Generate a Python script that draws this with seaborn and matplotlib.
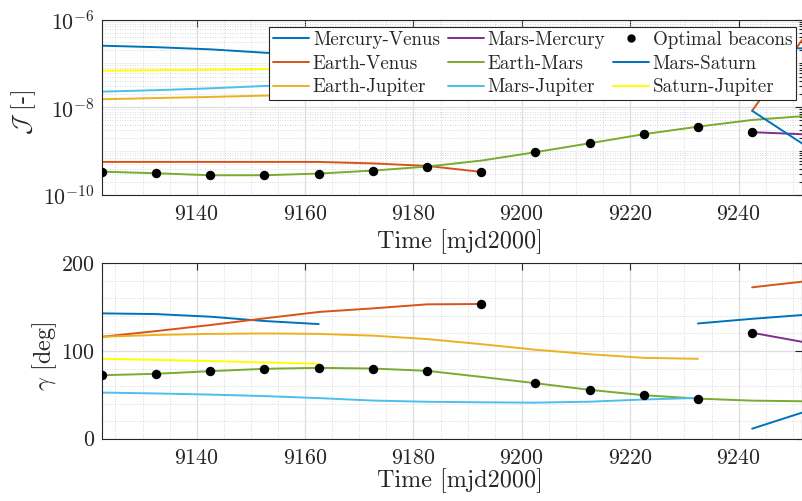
import numpy as np
import pandas as pd
import matplotlib
matplotlib.use("Agg")
import matplotlib.pyplot as plt
import seaborn as sns
from matplotlib.ticker import MultipleLocator, LogLocator, NullFormatter
from matplotlib.lines import Line2D

# ---------------- data ----------------
names = ["Mercury-Venus", "Earth-Venus", "Earth-Jupiter", "Mars-Mercury",
         "Earth-Mars", "Mars-Jupiter", "Mars-Saturn", "Saturn-Jupiter"]
colors = {"Mercury-Venus": "#0072BD", "Earth-Venus": "#D95319",
          "Earth-Jupiter": "#EDB120", "Mars-Mercury": "#7E2F8E",
          "Earth-Mars": "#77AC30", "Mars-Jupiter": "#4DBEEE",
          "Mars-Saturn": "#0072BD", "Saturn-Jupiter": "#FFFF00"}

# Mercury-Venus (two segments)
mv1_t = [9122.5, 9132.5, 9142.5, 9152.5, 9162.5]
mv1_J = [2.53e-7, 2.34e-7, 2.09e-7, 1.75e-7, 1.55e-7]
mv1_g = [142.9, 142.1, 139.1, 134.2, 130.7]
mv2_t = [9232.5, 9242.5, 9251.7]
mv2_J = [2.4e-7, 2.3e-7, 2.2e-7]
mv2_g = [131.4, 136.7, 141.0]

# Earth-Venus (two segments)
ev1_t = [9122.5, 9132.5, 9142.5, 9152.5, 9162.5, 9172.5, 9182.5, 9192.5]
ev1_J = [5.68e-10, 5.68e-10, 5.68e-10, 5.68e-10, 5.67e-10, 5.25e-10, 4.6e-10, 3.36e-10]
ev1_g = [116.2, 122.7, 129.6, 137.2, 144.5, 148.6, 153.2, 153.6]
ev2_t = [9242.5, 9247.0, 9251.7]
ev2_J = [8.3e-9, 5.1e-8, 3.4e-7]
ev2_g = [172.6, 175.8, 179.0]

# Earth-Jupiter
ej_t = [9122.5, 9132.5, 9142.5, 9152.5, 9162.5, 9172.5, 9182.5, 9192.5,
        9202.5, 9212.5, 9222.5, 9232.5]
ej_J = [1.52e-8, 1.62e-8, 1.72e-8, 1.84e-8, 1.95e-8, 2.05e-8, 2.15e-8, 2.25e-8,
        2.32e-8, 2.38e-8, 2.44e-8, 2.5e-8]
ej_g = [116.2, 118.3, 119.5, 120.0, 119.5, 117.5, 113.6, 107.8,
        101.5, 96.3, 92.2, 91.1]

# Mars-Mercury
mm_t = [9242.5, 9251.7]
mm_J = [2.7e-9, 2.43e-9]
mm_g = [120.8, 110.5]

# Earth-Mars
em_t = [9122.5, 9132.5, 9142.5, 9152.5, 9162.5, 9172.5, 9182.5, 9192.5,
        9202.5, 9212.5, 9222.5, 9232.5, 9242.5, 9251.7]
em_J = [3.41e-10, 3.13e-10, 2.82e-10, 2.82e-10, 3.08e-10, 3.60e-10, 4.44e-10,
        6.08e-10, 9.44e-10, 1.51e-9, 2.43e-9, 3.61e-9, 5.13e-9, 6.24e-9]
em_g = [72.4, 74.0, 77.0, 79.7, 80.8, 80.0, 77.4, 70.5, 63.3, 55.7, 49.6,
        45.7, 43.4, 42.7]

# Mars-Jupiter
mj_t = [9122.5, 9132.5, 9142.5, 9152.5, 9162.5, 9172.5, 9182.5, 9192.5,
        9202.5, 9212.5, 9222.5, 9232.5]
mj_J = [2.27e-8, 2.45e-8, 2.7e-8, 3.05e-8, 3.3e-8, 3.55e-8, 3.8e-8, 4.0e-8,
        4.2e-8, 4.4e-8, 4.6e-8, 4.8e-8]
mj_g = [52.6, 51.6, 50.3, 48.6, 46.3, 43.5, 42.1, 41.5, 41.1, 42.2, 44.7, 46.5]

# Mars-Saturn
ms_t = [9242.5, 9251.7]
ms_J = [8.3e-9, 1.5e-9]
ms_g = [11.4, 29.7]

# Saturn-Jupiter
sj_t = [9122.5, 9132.5, 9142.5, 9152.5, 9162.5]
sj_J = [6.8e-8, 7.0e-8, 7.2e-8, 7.45e-8, 7.7e-8]
sj_g = [91.1, 89.9, 88.5, 87.0, 85.4]

# Optimal beacons
beacon_t = [9122.5, 9132.5, 9142.5, 9152.5, 9162.5, 9172.5, 9182.5, 9192.5,
            9202.5, 9212.5, 9222.5, 9232.5, 9242.5]
beacon_J = [3.41e-10, 3.13e-10, 2.82e-10, 2.82e-10, 3.08e-10, 3.60e-10, 4.44e-10,
            3.36e-10, 9.44e-10, 1.51e-9, 2.43e-9, 3.61e-9, 2.7e-9]
beacon_g = [72.4, 74.0, 77.0, 79.7, 80.8, 80.0, 77.4, 153.6, 63.3, 55.7, 49.6,
            45.7, 120.8]

segments = [
    ("Mercury-Venus", mv1_t, mv1_J, mv1_g),
    ("Mercury-Venus", mv2_t, mv2_J, mv2_g),
    ("Earth-Venus", ev1_t, ev1_J, ev1_g),
    ("Earth-Venus", ev2_t, ev2_J, ev2_g),
    ("Earth-Jupiter", ej_t, ej_J, ej_g),
    ("Mars-Mercury", mm_t, mm_J, mm_g),
    ("Earth-Mars", em_t, em_J, em_g),
    ("Mars-Jupiter", mj_t, mj_J, mj_g),
    ("Mars-Saturn", ms_t, ms_J, ms_g),
    ("Saturn-Jupiter", sj_t, sj_J, sj_g),
]

# ---------------- style ----------------
sns.set_theme(style="white")
plt.rcParams.update({
    "font.family": ["cmr10", "DejaVu Serif"],
    "mathtext.fontset": "cm",
    "axes.formatter.use_mathtext": True,
    "axes.unicode_minus": False,
    "text.color": "#262626",
    "axes.labelcolor": "#262626",
    "xtick.color": "#262626",
    "ytick.color": "#262626",
    "axes.edgecolor": "#262626",
})

W, H = 802, 501
fig = plt.figure(figsize=(W / 100, H / 100), dpi=100)
left = 101.7
ax1 = fig.add_axes([left / W, 1 - 195 / H, (W - left) / W, 175.5 / H])
ax2 = fig.add_axes([left / W, 1 - 438.7 / H, (W - left) / W, 175.4 / H])

XLIM = (9122.46, 9251.7)
TICK_FS = 15.8
LABEL_FS = 17.4
LW = 1.4

for name, t, J, g in segments:
    df = pd.DataFrame({"t": t, "J": J, "g": g})
    sns.lineplot(data=df, x="t", y="J", ax=ax1, color=colors[name], lw=LW,
                 estimator=None, sort=False, legend=False)
    sns.lineplot(data=df, x="t", y="g", ax=ax2, color=colors[name], lw=LW,
                 estimator=None, sort=False, legend=False)

bdf = pd.DataFrame({"t": beacon_t, "J": beacon_J, "g": beacon_g})
sns.scatterplot(data=bdf, x="t", y="J", ax=ax1, color="black", s=46,
                edgecolor="black", linewidth=0, zorder=5, legend=False)
sns.scatterplot(data=bdf, x="t", y="g", ax=ax2, color="black", s=46,
                edgecolor="black", linewidth=0, zorder=5, legend=False)

for ax in (ax1, ax2):
    ax.set_xlim(*XLIM)
    ax.xaxis.set_major_locator(MultipleLocator(20))
    ax.xaxis.set_minor_locator(MultipleLocator(5))
    ax.set_axisbelow(True)
    ax.grid(which="major", color="#dedede", lw=0.9, ls="-")
    ax.grid(which="minor", color="#cdcdcd", lw=0.6, ls=(0, (1, 2)))
    ax.tick_params(which="both", direction="in", top=True, right=True,
                   labelsize=TICK_FS, width=0.8)
    ax.tick_params(which="major", length=5)
    ax.tick_params(axis="x", which="minor", length=0)
    ax.tick_params(axis="x", which="major", pad=7)
    ax.tick_params(axis="y", which="major", pad=5)
    for sp in ax.spines.values():
        sp.set_linewidth(0.8)
        sp.set_color("#262626")
    ax.set_xlabel("Time [mjd2000]", fontsize=LABEL_FS)
    ax.xaxis.label.set_verticalalignment("baseline")

# top axis (log)
ax1.set_yscale("log")
ax1.set_ylim(1e-10, 1e-6)
ax1.set_yticks([1e-10, 1e-8, 1e-6])
ax1.set_yticklabels([r"$10^{-10}$", r"$10^{-8}$", r"$10^{-6}$"])
ax1.yaxis.set_minor_locator(LogLocator(base=10, subs=np.arange(1, 10), numticks=30))
ax1.yaxis.set_minor_formatter(NullFormatter())
ax1.tick_params(axis="y", which="minor", length=2.5)
ax1.set_ylabel(r"$\mathcal{J}$ [-]", fontsize=LABEL_FS)
ax1.yaxis.set_label_coords((24 - left) / (W - left), 0.47)
ax1.yaxis.label.set_verticalalignment("center")
ax1.xaxis.set_label_coords((460 - left) / (W - left), -0.300)

# bottom axis
ax2.set_ylim(0, 200)
ax2.set_yticks([0, 100, 200])
ax2.yaxis.set_minor_locator(MultipleLocator(20))
ax2.tick_params(axis="y", which="minor", length=0)
ax2.set_ylabel(r"$\gamma$ [deg]", fontsize=LABEL_FS)
ax2.yaxis.set_label_coords((45 - left) / (W - left), 0.47)
ax2.yaxis.label.set_verticalalignment("center")
ax2.xaxis.set_label_coords((460 - left) / (W - left), -0.274)

# legend
def lh(name):
    return Line2D([], [], color=colors[name], lw=LW)

handles = [lh("Mercury-Venus"), lh("Earth-Venus"), lh("Earth-Jupiter"),
           lh("Mars-Mercury"), lh("Earth-Mars"), lh("Mars-Jupiter"),
           Line2D([], [], color="black", marker="o", ls="none", markersize=5),
           lh("Mars-Saturn"), lh("Saturn-Jupiter")]
labels = ["Mercury-Venus", "Earth-Venus", "Earth-Jupiter",
          "Mars-Mercury", "Earth-Mars", "Mars-Jupiter",
          "Optimal beacons", "Mars-Saturn", "Saturn-Jupiter"]
leg = ax1.legend(handles, labels, ncol=3, loc="upper right",
                 bbox_to_anchor=(796 / W, 1 - 27.3 / H),
                 bbox_transform=fig.transFigure, borderaxespad=0,
                 fontsize=13.7, frameon=True, fancybox=False, shadow=False,
                 framealpha=1, edgecolor="#262626", handlelength=1.9,
                 handletextpad=0.2, columnspacing=0.4, labelspacing=0.3,
                 borderpad=0.2)
leg.get_frame().set_linewidth(0.8)
leg.set_zorder(10)

fig.savefig("out.png", dpi=100)
